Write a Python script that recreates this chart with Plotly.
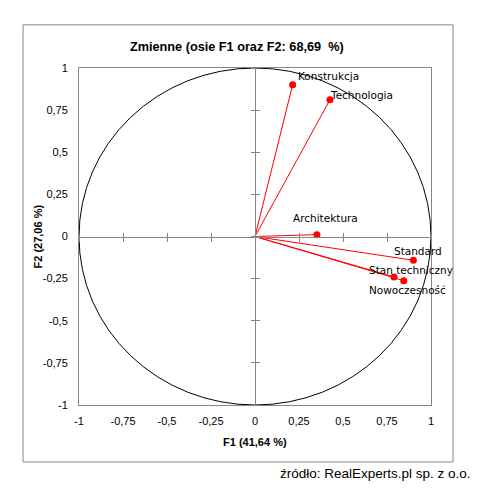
import plotly.graph_objects as go

variables = ["Konstrukcja", "Technologia", "Architektura", "Standard", "Stan techniczny", "Nowoczesność"]
f1 = [0.214, 0.426, 0.352, 0.900, 0.790, 0.845]
f2 = [0.901, 0.812, 0.011, -0.141, -0.240, -0.262]
tick_vals = [-1, -0.75, -0.5, -0.25, 0, 0.25, 0.5, 0.75, 1]
tick_text = ["-1", "-0,75", "-0,5", "-0,25", "0", "0,25", "0,5", "0,75", "1"]
title_text = "Zmienne (osie F1 oraz F2: 68,69  %)"
x_title = "F1 (41,64 %)"
y_title = "F2 (27,06 %)"
source_text = "źródło: RealExperts.pl sp. z o.o."

# label offsets (pixels) for each variable label
label_shift = {
    "Konstrukcja": (3, 9),
    "Technologia": (-2, 5),
    "Architektura": (-26, 17),
    "Standard": (-21, 9),
    "Stan techniczny": (-27, 7),
    "Nowoczesność": (-37, -9),
}

RED = "#FF0000"
GRAY = "#868686"
tick_font = dict(family="Liberation Sans", size=11, color="#000000")
label_font = dict(family="DejaVu Sans", size=10.5, color="#000000")

fig = go.Figure()

for name, x, y in zip(variables, f1, f2):
    fig.add_trace(go.Scatter(
        x=[0, x], y=[0, y], mode="lines",
        line=dict(color=RED, width=1), hoverinfo="skip", showlegend=False))

fig.add_trace(go.Scatter(
    x=f1, y=f2, mode="markers", text=variables,
    marker=dict(color=RED, size=7), showlegend=False))

# unit circle
fig.add_shape(type="circle", xref="x", yref="y", x0=-1, y0=-1, x1=1, y1=1,
              line=dict(color="#000000", width=1), layer="below")

# outer chart border
fig.add_shape(type="rect", xref="paper", yref="paper",
              x0=-0.159, y0=-0.169, x1=1.0625, y1=1.128,
              line=dict(color=GRAY, width=1))

annotations = []
for name, x, y in zip(variables, f1, f2):
    dx, dy = label_shift[name]
    annotations.append(dict(x=x, y=y, xref="x", yref="y", text=name,
                            showarrow=False, xanchor="left", yanchor="middle",
                            xshift=dx, yshift=dy, font=label_font))

annotations.append(dict(x=0.449, y=1.062, xref="paper", yref="paper", text="<b>" + title_text + "</b>",
                        showarrow=False, xanchor="center", yanchor="middle",
                        font=dict(family="Liberation Sans", size=12.7, color="#000000")))
annotations.append(dict(x=0.5, y=-0.11, xref="paper", yref="paper", text="<b>" + x_title + "</b>",
                        showarrow=False, xanchor="center", yanchor="middle",
                        font=dict(family="Liberation Sans", size=11, color="#000000")))
annotations.append(dict(x=-0.1165, y=0.5, xref="paper", yref="paper", text="<b>" + y_title + "</b>",
                        showarrow=False, xanchor="center", yanchor="middle", textangle=-90,
                        font=dict(family="Liberation Sans", size=11, color="#000000")))
annotations.append(dict(x=1.119, y=-0.2018, xref="paper", yref="paper", text=source_text,
                        showarrow=False, xanchor="right", yanchor="middle",
                        font=dict(family="Liberation Sans", size=13.5, color="#000000")))

common = dict(range=[-1, 1], showgrid=False, zeroline=False, fixedrange=True)

fig.update_layout(
    width=479, height=488,
    margin=dict(l=79, r=48, t=68, b=83),
    paper_bgcolor="white", plot_bgcolor="white",
    showlegend=False,
    annotations=annotations,
    xaxis=dict(**common, tickvals=tick_vals, ticktext=tick_text, ticks="",
               showline=True, linecolor=GRAY, linewidth=1, mirror=True,
               tickfont=tick_font, ticklabelstandoff=6),
    yaxis=dict(**common, tickvals=tick_vals, ticktext=tick_text, ticks="",
               showline=True, linecolor=GRAY, linewidth=1, mirror=True,
               tickfont=tick_font, ticklabelstandoff=8),
    xaxis2=dict(**common, overlaying="x", anchor="free", position=0.5, side="bottom",
                tickvals=tick_vals, ticks="outside", ticklen=4, tickcolor=GRAY,
                showticklabels=False, showline=True, linecolor=GRAY, linewidth=1),
    xaxis3=dict(**common, overlaying="x", anchor="free", position=0.5, side="bottom",
                tickvals=tick_vals, ticks="inside", ticklen=4, tickcolor=GRAY,
                showticklabels=False, showline=False),
    yaxis2=dict(**common, overlaying="y", anchor="free", position=0.5, side="left",
                tickvals=tick_vals, ticks="outside", ticklen=4, tickcolor=GRAY,
                showticklabels=False, showline=True, linecolor=GRAY, linewidth=1),
    yaxis3=dict(**common, overlaying="y", anchor="free", position=0.5, side="left",
                tickvals=tick_vals, ticks="inside", ticklen=4, tickcolor=GRAY,
                showticklabels=False, showline=False),
)

# dummy traces to activate the centre axes
fig.add_trace(go.Scatter(x=[None], y=[None], xaxis="x2", yaxis="y2", showlegend=False, hoverinfo="skip"))
fig.add_trace(go.Scatter(x=[None], y=[None], xaxis="x3", yaxis="y3", showlegend=False, hoverinfo="skip"))

fig.write_html("out.html")
